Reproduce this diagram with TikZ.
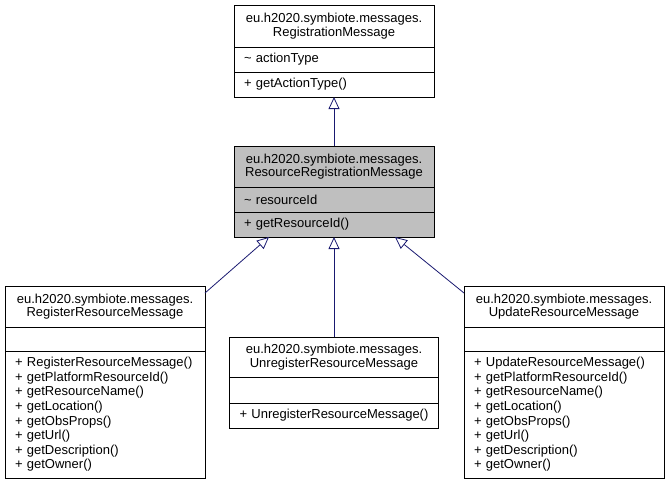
\documentclass[tikz,border=0pt]{standalone}
\usepackage{fontspec}
\setmainfont{Liberation Sans}
\usepackage{xcolor}
\usetikzlibrary{arrows.meta, positioning}
\definecolor{edgeblue}{HTML}{191970}
\definecolor{classgray}{HTML}{BFBFBF}
\tikzset{
  part/.style={draw=black, fill=white, line width=0.8pt, outer sep=0pt, inner xsep=10pt, inner ysep=0pt,
    text width=180pt, anchor=north, font=\fontsize{13}{14.6}\selectfont},
  titlepart/.style={part, align=center, font=\fontsize{13}{13.5}\selectfont},
  memberpart/.style={part, align=left},
  inherit/.style={draw=edgeblue, line width=0.8pt, -{Triangle[open, length=12pt, width=11pt, fill=white]}},
}

\begin{document}
\begin{tikzpicture}[x=1pt, y=-1pt]
    \useasboundingbox (0,0) rectangle (669,485);
    \node[titlepart, minimum height=42] (reg) at (334,5) {eu.h2020.symbiote.messages.\\RegistrationMessage};
    \node[memberpart, minimum height=25, below=0pt of reg] (regattr) {\textasciitilde{} actionType};
    \node[memberpart, minimum height=25, below=0pt of regattr] (regops) {+ getActionType()};

    \node[titlepart, fill=classgray, minimum height=41] (res) at (334,146) {eu.h2020.symbiote.messages.\\ResourceRegistrationMessage};
    \node[memberpart, fill=classgray, minimum height=25, below=0pt of res] (resattr) {\textasciitilde{} resourceId};
    \node[memberpart, fill=classgray, minimum height=25, below=0pt of resattr] (resops) {+ getResourceId()};

    \node[titlepart, minimum height=41] (rgst) at (105,286) {eu.h2020.symbiote.messages.\\RegisterResourceMessage};
    \node[memberpart, minimum height=24, below=0pt of rgst] (rgstattr) {};
    \node[memberpart, minimum height=127, below=0pt of rgstattr] (rgstops) {+ RegisterResourceMessage()\\+ getPlatformResourceId()\\+ getResourceName()\\+ getLocation()\\+ getObsProps()\\+ getUrl()\\+ getDescription()\\+ getOwner()};

    \node[titlepart, text width=189pt, minimum height=40] (unreg) at (334,337) {eu.h2020.symbiote.messages.\\UnregisterResourceMessage};
    \node[memberpart, text width=189pt, minimum height=26, below=0pt of unreg] (unregattr) {};
    \node[memberpart, text width=189pt, minimum height=25, below=0pt of unregattr] (unregops) {+ UnregisterResourceMessage()};

    \node[titlepart, minimum height=41] (upd) at (564,286) {eu.h2020.symbiote.messages.\\UpdateResourceMessage};
    \node[memberpart, minimum height=24, below=0pt of upd] (updattr) {};
    \node[memberpart, minimum height=127, below=0pt of updattr] (updops) {+ UpdateResourceMessage()\\+ getPlatformResourceId()\\+ getResourceName()\\+ getLocation()\\+ getObsProps()\\+ getUrl()\\+ getDescription()\\+ getOwner()};

    \draw[inherit] (res.north) -- (regops.south);
    \draw[inherit] ([yshift=-7pt]rgst.north east) -- ([xshift=-65pt]resops.south);
    \draw[inherit] (unreg.north) -- (resops.south);
    \draw[inherit] ([yshift=-7pt]upd.north west) -- ([xshift=61pt]resops.south);
\end{tikzpicture}
\end{document}
